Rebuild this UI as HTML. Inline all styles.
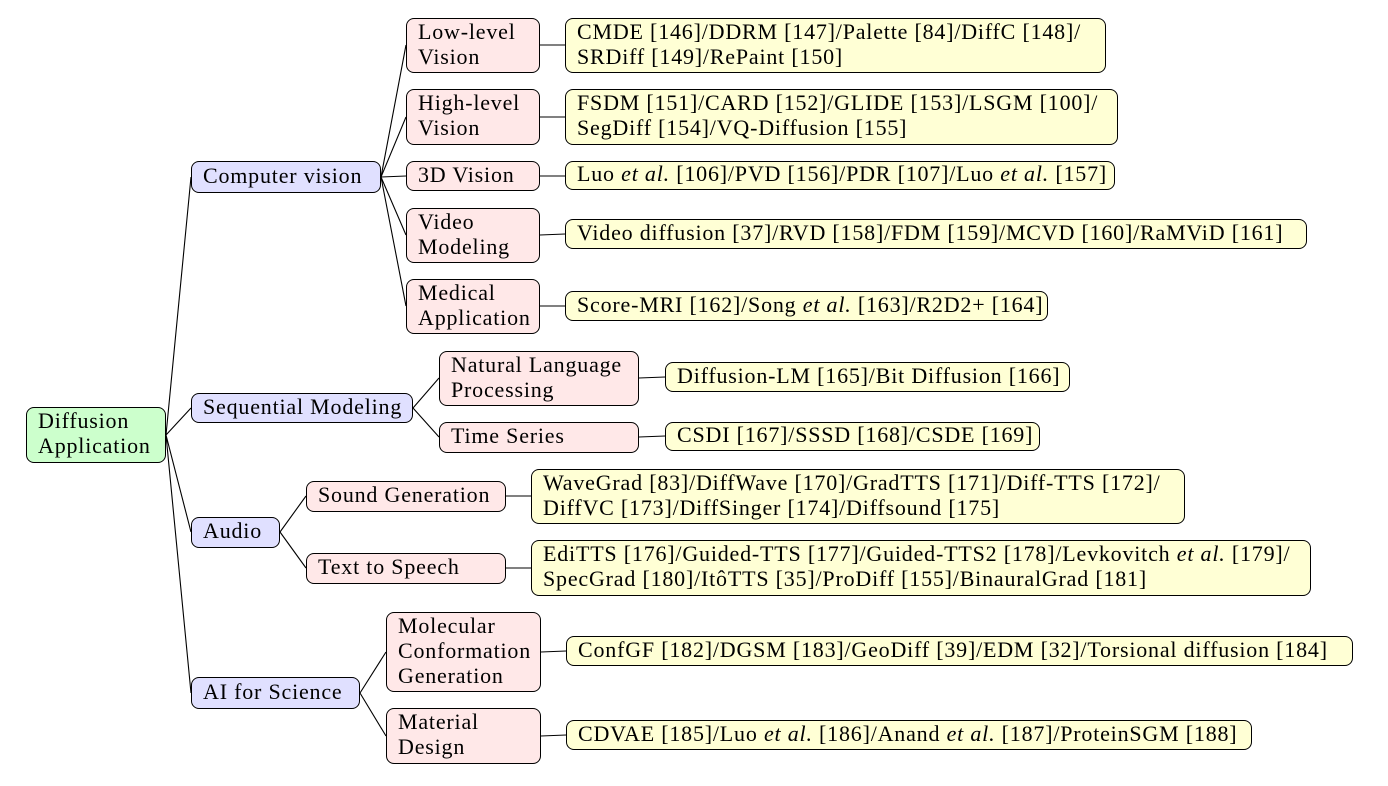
<!DOCTYPE html>
<html><head><meta charset="utf-8"><style>
body{margin:0;width:1388px;height:786px;background:#fff;position:relative;overflow:hidden;font-family:"Liberation Serif",serif;}
.b{position:absolute;box-sizing:border-box;border:1px solid #000;border-radius:8px;font-size:22px;line-height:25px;padding:0 0 4px 11px;white-space:nowrap;letter-spacing:0.8px;color:#000;display:flex;flex-direction:column;justify-content:center;}
.g{background:#ccffcc}.u{background:#e0e0ff}.p{background:#ffe8e8}.y{background:#ffffd5}
svg{position:absolute;left:0;top:0}
</style></head><body>
<svg width="1388" height="786" stroke="#000" stroke-width="1.1" fill="none">
<path d="M166 435L191 177M166 435L191 408M166 435L191 532M166 435L191 693"/>
<path d="M381 177L406 45M381 177L406 117M381 177L406 176M381 177L406 235M381 177L406 306"/>
<path d="M413 408L439 378M413 408L439 437"/>
<path d="M280 532L306 496M280 532L306 568"/>
<path d="M360 693L386 652M360 693L386 736"/>
<path d="M540 45L565 45M540 117L565 117M540 176L565 176M540 235L565 234M540 306L565 306"/>
<path d="M639 378L665 377M639 437L665 436M506 496L531 496M506 568L531 568M541 652L566 651M541 736L566 735"/>
</svg>
<div class="b g" style="left:26px;top:407px;width:140px;height:56px">Diffusion<br>Application</div>
<div class="b u" style="left:191px;top:161px;width:190px;height:32px">Computer vision</div>
<div class="b u" style="left:191px;top:393px;width:222px;height:30px">Sequential Modeling</div>
<div class="b u" style="left:191px;top:517px;width:89px;height:31px">Audio</div>
<div class="b u" style="left:191px;top:677px;width:169px;height:32px">AI for Science</div>
<div class="b p" style="left:406px;top:18px;width:134px;height:55px">Low-level<br>Vision</div>
<div class="b p" style="left:406px;top:89px;width:134px;height:56px">High-level<br>Vision</div>
<div class="b p" style="left:406px;top:161px;width:134px;height:30px">3D Vision</div>
<div class="b p" style="left:406px;top:208px;width:134px;height:55px">Video<br>Modeling</div>
<div class="b p" style="left:406px;top:279px;width:134px;height:55px">Medical<br>Application</div>
<div class="b p" style="left:439px;top:351px;width:200px;height:55px">Natural Language<br>Processing</div>
<div class="b p" style="left:439px;top:422px;width:200px;height:31px">Time Series</div>
<div class="b p" style="left:306px;top:481px;width:200px;height:31px">Sound Generation</div>
<div class="b p" style="left:306px;top:553px;width:200px;height:31px">Text to Speech</div>
<div class="b p" style="left:386px;top:612px;width:155px;height:80px">Molecular<br>Conformation<br>Generation</div>
<div class="b p" style="left:386px;top:708px;width:155px;height:56px">Material<br>Design</div>
<div class="b y" style="left:565px;top:18px;width:541px;height:55px">CMDE [146]/DDRM [147]/Palette [84]/DiffC [148]/<br>SRDiff [149]/RePaint [150]</div>
<div class="b y" style="left:565px;top:89px;width:553px;height:56px">FSDM [151]/CARD [152]/GLIDE [153]/LSGM [100]/<br>SegDiff [154]/VQ-Diffusion [155]</div>
<div class="b y" style="left:565px;top:161px;width:550px;height:29px"><span>Luo <i>et al.</i> [106]/PVD [156]/PDR [107]/Luo <i>et al.</i> [157]</span></div>
<div class="b y" style="left:565px;top:219px;width:742px;height:30px">Video diffusion [37]/RVD [158]/FDM [159]/MCVD [160]/RaMViD [161]</div>
<div class="b y" style="left:565px;top:291px;width:483px;height:30px"><span>Score-MRI [162]/Song <i>et al.</i> [163]/R2D2+ [164]</span></div>
<div class="b y" style="left:665px;top:362px;width:405px;height:30px">Diffusion-LM [165]/Bit Diffusion [166]</div>
<div class="b y" style="left:665px;top:422px;width:375px;height:29px">CSDI [167]/SSSD [168]/CSDE [169]</div>
<div class="b y" style="left:531px;top:469px;width:654px;height:55px">WaveGrad [83]/DiffWave [170]/GradTTS [171]/Diff-TTS [172]/<br>DiffVC [173]/DiffSinger [174]/Diffsound [175]</div>
<div class="b y" style="left:531px;top:540px;width:780px;height:56px"><span>EdiTTS [176]/Guided-TTS [177]/Guided-TTS2 [178]/Levkovitch <i>et al.</i> [179]/</span><span>SpecGrad [180]/ItôTTS [35]/ProDiff [155]/BinauralGrad [181]</span></div>
<div class="b y" style="left:566px;top:636px;width:787px;height:30px">ConfGF [182]/DGSM [183]/GeoDiff [39]/EDM [32]/Torsional diffusion [184]</div>
<div class="b y" style="left:566px;top:720px;width:686px;height:30px"><span>CDVAE [185]/Luo <i>et al.</i> [186]/Anand <i>et al.</i> [187]/ProteinSGM [188]</span></div>
</body></html>
